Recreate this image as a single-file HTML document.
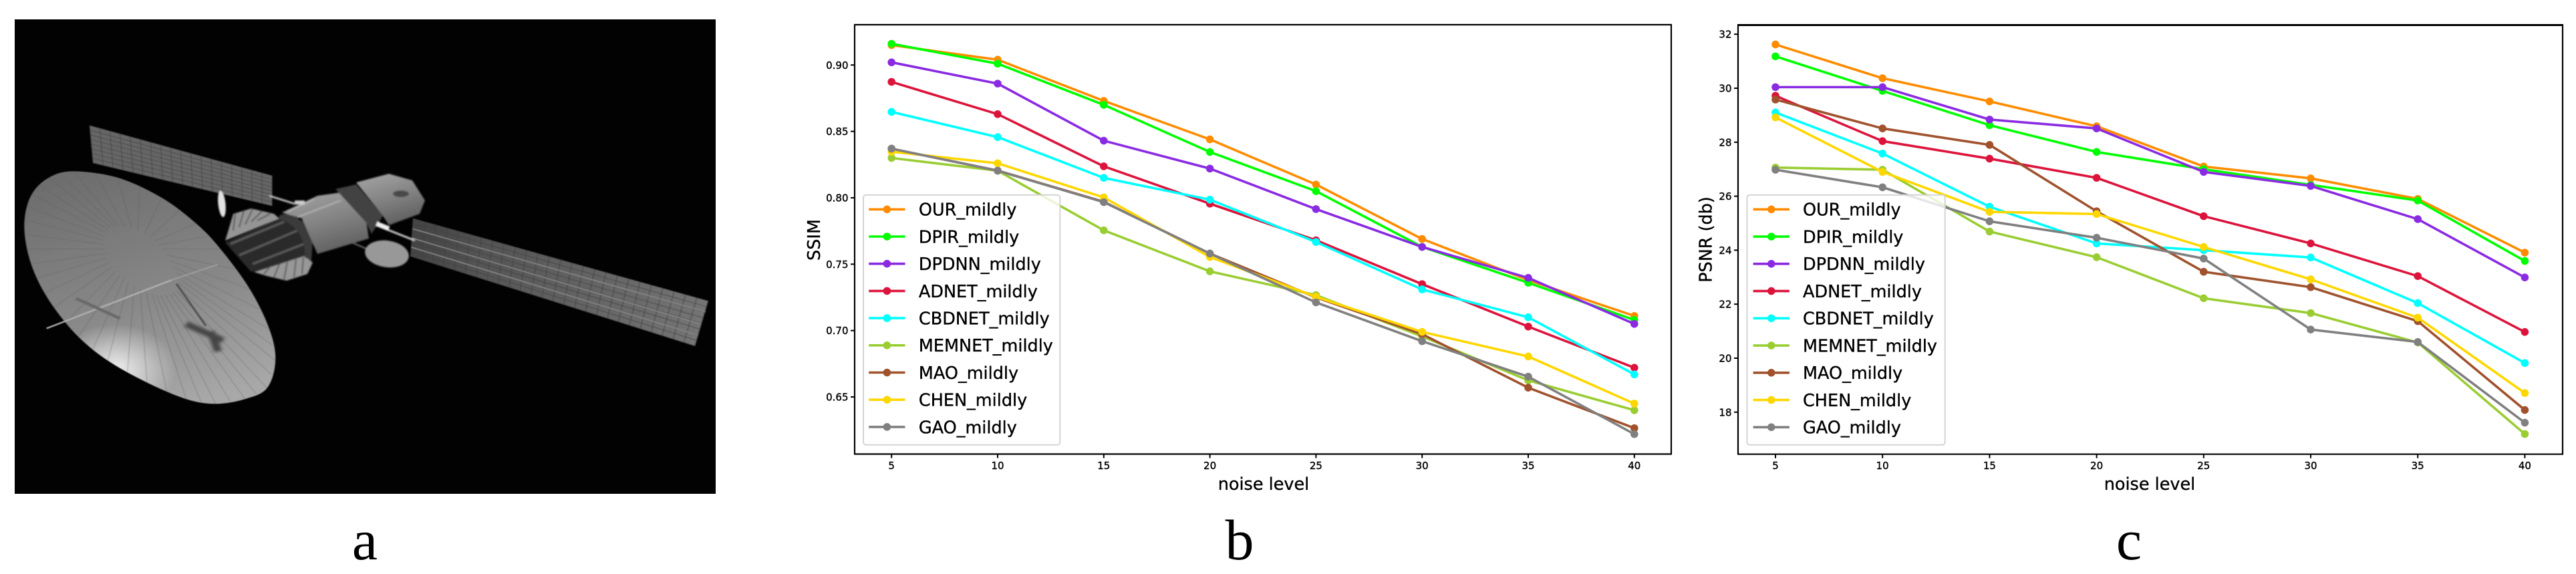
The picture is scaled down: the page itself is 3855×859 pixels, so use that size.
<!DOCTYPE html>
<html lang="en">
<head>
<meta charset="utf-8">
<title>Satellite image with SSIM and PSNR noise charts</title>
<style>
html,body{margin:0;padding:0;background:#fff;}
svg{display:block;}
.tick{font-family:"DejaVu Sans","Liberation Sans",sans-serif;font-size:15px;fill:#000;stroke:#000;stroke-width:.4px;}
.lbl{font-family:"DejaVu Sans","Liberation Sans",sans-serif;font-size:25.5px;fill:#000;stroke:#000;stroke-width:.35px;}
.cap{font-family:"Liberation Serif",serif;font-size:86px;fill:#000;}
</style>
</head>
<body>
<svg id="root" xmlns="http://www.w3.org/2000/svg" width="3855" height="859" viewBox="0 0 3855 859">
  <defs>
    <linearGradient id="dishGrad" gradientUnits="userSpaceOnUse" x1="180" y1="480" x2="430" y2="1090">
      <stop offset="0" stop-color="#6e6e6e"/><stop offset=".55" stop-color="#888"/><stop offset="1" stop-color="#a8a8a8"/>
    </linearGradient>
    <linearGradient id="rightPanelGrad" gradientUnits="userSpaceOnUse" x1="840" y1="700" x2="1440" y2="850">
      <stop offset="0" stop-color="#444"/><stop offset=".25" stop-color="#555"/><stop offset="1" stop-color="#747474"/>
    </linearGradient>
    <linearGradient id="cylGrad" x1="0.2" y1="0" x2="0.6" y2="1">
      <stop offset="0" stop-color="#a2a2a2"/><stop offset=".5" stop-color="#838383"/><stop offset="1" stop-color="#5e5e5e"/>
    </linearGradient>
    <radialGradient id="dishGlow" gradientUnits="userSpaceOnUse" cx="235" cy="1010" r="125">
      <stop offset="0" stop-color="#f4f4f4" stop-opacity=".95"/><stop offset="1" stop-color="#f4f4f4" stop-opacity="0"/>
    </radialGradient>
    <clipPath id="dishClip"><path id="dishClipPath"/></clipPath>
    <filter id="soft" x="-20%" y="-20%" width="140%" height="140%"><feGaussianBlur stdDeviation="1"/></filter>
    <filter id="softer" x="-40%" y="-40%" width="180%" height="180%"><feGaussianBlur stdDeviation="4"/></filter>
  </defs>

  <rect width="3855" height="859" fill="#fff"/>

  <g>
    <rect x="22" y="29" width="1049" height="710" fill="#020202"/>
    <g transform="scale(0.7334,0.5479)" filter="url(#soft)">
      <g>
        <polygon points="183,343 555,480 555,562 190,445" fill="#666"/>
        <path id="leftGrid" fill="none" stroke="#484848" stroke-width="1.6"/>
      </g>
      <g>
        <polygon points="843,597 1445,822 1418,945 838,700" fill="url(#rightPanelGrad)"/>
        <path id="rightGrid" fill="none" stroke="#404040" stroke-width="1.4"/>
        <path d="M842,625L1440,852M840,650L1430,885M839,675L1424,915" fill="none" stroke="#8e8e8e" stroke-width="2.4"/>
      </g>
    </g>
    <g filter="url(#soft)">
      <line x1="403" y1="293" x2="441" y2="305" stroke="#bbb" stroke-width="3"/>
      <line x1="563" y1="337" x2="621" y2="360" stroke="#c8c8c8" stroke-width="3"/>
      <line x1="520" y1="360" x2="550" y2="373" stroke="#777" stroke-width="2"/>
      <polygon points="341,347 349,320 376,312 410,320 418,327 337,360" fill="#959595"/>
      <path d="M349,345L352,320M358,340L365,315M367,336L378,313M376,332L392,316M385,330L404,320" stroke="#555" stroke-width="2" fill="none"/>
      <polygon points="380,407 456,383 468,393 460,410 429,420 399,413" fill="#989898"/>
      <path d="M395,410L405,398M410,415L418,395M425,418L430,392M440,415L443,388M452,410L454,385" stroke="#5a5a5a" stroke-width="2" fill="none"/>
      <polygon points="337,363 418,327 456,330 468,363 456,383 376,407" fill="#2a2a2a"/>
      <path d="M345,365L425,332M358,382L445,345M378,395L455,365" stroke="#5c5c5c" stroke-width="3" fill="none"/>
      <path d="M418,322C440,315 455,330 468,360L466,390L456,385C458,360 445,335 418,328Z" fill="#3a3a3a"/>
      <polygon points="422,318 475,293 517,287 548,330 552,357 475,380 452,327" fill="url(#cylGrad)"/>
      <polygon points="502,283 533,276 573,323 556,350 548,333" fill="#424242"/>
      <polygon points="533,273 582,260 617,270 636,300 628,320 582,337 573,323" fill="url(#cylGrad)"/>
      <ellipse cx="600" cy="290" rx="12" ry="5" fill="#484848"/>
      <path d="M430,317L470,298M445,325L510,300" stroke="#b4b4b4" stroke-width="2" fill="none"/>
      <ellipse cx="332" cy="305" rx="5.5" ry="20" fill="#e2e2e2" transform="rotate(-6 332 305)"/>
      <rect x="563" y="335" width="20" height="7" fill="#eee" transform="rotate(22 573 338)"/>
      <rect x="441" y="300" width="15" height="6" fill="#ccc"/>
      <ellipse cx="579" cy="380" rx="33" ry="20" fill="#989898" transform="rotate(8 579 380)"/>
    </g>
    <g transform="scale(0.7334,0.5479)" filter="url(#soft)">
      <g>
        <path id="dishShape" fill="url(#dishGrad)"/>
        <g clip-path="url(#dishClip)">
          <rect x="40" y="860" width="320" height="260" fill="url(#dishGlow)"/>
          <path id="dishRibs" fill="none" stroke="#5c5c5c" stroke-width="1.4" opacity=".45"/>
        </g>
        <path d="M95,897L350,765" stroke="#b0b0b0" stroke-width="4" fill="none"/>
        <path d="M350,765L445,722" stroke="#a0a0a0" stroke-width="3" fill="none"/>
        <path d="M155,815L245,870" stroke="#6a6a6a" stroke-width="8" fill="none"/>
        <path d="M360,775L420,890" stroke="#555" stroke-width="5" fill="none"/>
        <path d="M380,885L455,930M430,905L445,960" stroke="#454545" stroke-width="16" fill="none" filter="url(#softer)"/>
      </g>
    </g>
  </g>

  <text class="cap" x="546" y="837" text-anchor="middle">a</text>
  <text class="cap" x="1855" y="837" text-anchor="middle">b</text>
  <text class="cap" x="3186" y="837" text-anchor="middle">c</text>

  <g id="chartB"></g>
  <g id="chartC"></g>
</svg>

<script>
const noiseLevels = [5, 10, 15, 20, 25, 30, 35, 40];
const seriesNames = ["OUR_mildly", "DPIR_mildly", "DPDNN_mildly", "ADNET_mildly", "CBDNET_mildly", "MEMNET_mildly", "MAO_mildly", "CHEN_mildly", "GAO_mildly"];
const ssimTickLabels = ["0.90", "0.85", "0.80", "0.75", "0.70", "0.65"];
const psnrTickLabels = ["32", "30", "28", "26", "24", "22", "20", "18"];

const ssimOur    = [0.915, 0.904, 0.873, 0.844, 0.810, 0.769, 0.738, 0.711];
const ssimDpir   = [0.916, 0.901, 0.870, 0.8345, 0.805, 0.763, 0.736, 0.708];
const ssimDpdnn  = [0.902, 0.886, 0.843, 0.822, 0.7915, 0.763, 0.7397, 0.705];
const ssimAdnet  = [0.8873, 0.863, 0.8237, 0.7956, 0.768, 0.735, 0.703, 0.672];
const ssimCbdnet = [0.8647, 0.8457, 0.815, 0.7986, 0.7667, 0.731, 0.710, 0.667];
const ssimMemnet = [0.830, 0.8204, 0.7755, 0.7446, 0.7267, 0.6956, 0.6625, 0.640];
const ssimMao    = [0.837, 0.8205, 0.797, 0.758, 0.725, 0.6973, 0.657, 0.6265];
const ssimChen   = [0.8347, 0.826, 0.8003, 0.7554, 0.7254, 0.699, 0.6805, 0.645];
const ssimGao    = [0.837, 0.8204, 0.7967, 0.758, 0.7212, 0.692, 0.6653, 0.622];

const psnrOur    = [31.62, 30.37, 29.51, 28.59, 27.10, 26.66, 25.90, 23.91];
const psnrDpir   = [31.18, 29.90, 28.63, 27.64, 27.00, 26.42, 25.84, 23.60];
const psnrDpdnn  = [30.04, 30.04, 28.84, 28.51, 26.90, 26.38, 25.15, 22.99];
const psnrAdnet  = [29.72, 28.04, 27.39, 26.68, 25.26, 24.25, 23.04, 20.97];
const psnrCbdnet = [29.10, 27.58, 25.61, 24.25, 24.00, 23.73, 22.04, 19.82];
const psnrMemnet = [27.06, 26.98, 24.69, 23.74, 22.22, 21.67, 20.58, 17.19];
const psnrMao    = [29.58, 28.51, 27.90, 25.44, 23.20, 22.63, 21.37, 18.08];
const psnrChen   = [28.92, 26.90, 25.42, 25.34, 24.12, 22.92, 21.50, 18.71];
const psnrGao    = [26.98, 26.33, 25.07, 24.46, 23.69, 21.06, 20.60, 17.61];

const ssimSeries = [ssimOur, ssimDpir, ssimDpdnn, ssimAdnet, ssimCbdnet, ssimMemnet, ssimMao, ssimChen, ssimGao];
const psnrSeries = [psnrOur, psnrDpir, psnrDpdnn, psnrAdnet, psnrCbdnet, psnrMemnet, psnrMao, psnrChen, psnrGao];

const palette = ["#ff8c00", "#00ff00", "#8a2be2", "#dc143c", "#00ffff", "#9acd32", "#a0522d", "#ffd700", "#808080"];

const NS = "http://www.w3.org/2000/svg";

function make(parent, tag, attrs, text) {
  const el = document.createElementNS(NS, tag);
  for (const k in attrs) el.setAttribute(k, attrs[k]);
  if (text !== undefined) el.textContent = text;
  parent.appendChild(el);
  return el;
}

function slug(name) {
  return name.toLowerCase().replace(/_/g, "-");
}

function xAxisScale(level, x5, perUnit) {
  return x5 + (level - 5) * perUnit;
}

function yAxisScale(value, refValue, refY, perUnit) {
  return refY + (refValue - value) * perUnit;
}

function drawChart(host, prefix, box, xFn, yFn, yTicks, series, legend, yLabel) {
  // y ticks
  yTicks.forEach(function (label) {
    const y = yFn(parseFloat(label));
    const tick = make(host, "line", { x1: box.left - 6, x2: box.left, y1: y, y2: y, stroke: "#000", "stroke-width": 2 });
    
    
    const t = make(host, "text", { class: "tick", x: box.left - 9.5, y: y + 5.5, "text-anchor": "end" }, label);
    
    
  });

  // x ticks
  noiseLevels.forEach(function (level) {
    const x = xFn(level);
    const tick = make(host, "line", { x1: x, x2: x, y1: box.bottom, y2: box.bottom + 6, stroke: "#000", "stroke-width": 2 });
    
    
    const t = make(host, "text", { class: "tick", x: x, y: box.bottom + 22.5, "text-anchor": "middle" }, String(level));
    
    
  });

  // series
  series.forEach(function (values, i) {
    const group = make(host, "g", {});
    
    
    const pts = values.map(function (v, j) { return xFn(noiseLevels[j]) + "," + yFn(v); }).join(" ");
    const line = make(group, "polyline", { points: pts, fill: "none", stroke: palette[i], "stroke-width": 3.6, "stroke-linejoin": "round" });
    
    
    values.forEach(function (v, j) {
      const dot = make(group, "circle", { cx: xFn(noiseLevels[j]), cy: yFn(v), r: 5.8, fill: palette[i] });
      
      
    });
  });

  // legend
  const lg = make(host, "g", {});
  
  
  const frame = make(lg, "rect", { x: legend.left, y: legend.top, width: legend.right - legend.left, height: legend.bottom - legend.top, rx: 4, fill: "#fff", "fill-opacity": 0.8, stroke: "#d4d4d4", "stroke-width": 2 });
  
  
  seriesNames.forEach(function (name, i) {
    const y = legend.firstRow + i * legend.rowGap;
    const entry = make(lg, "g", {});
    
    
    make(entry, "line", { x1: legend.handleStart, x2: legend.handleStart + 54.3, y1: y, y2: y, stroke: palette[i], "stroke-width": 3.6 });
    make(entry, "circle", { cx: legend.handleStart + 27.2, cy: y, r: 5.8, fill: palette[i] });
    make(entry, "text", { class: "lbl", x: legend.textX, y: y + 9.4 }, name);
  });

  // spines
  const sp = [
    ["left", box.left, box.top, box.left, box.bottom, box.sw],
    ["right", box.right, box.top, box.right, box.bottom, box.sw],
    ["top", box.left - 1, box.top, box.right + 1, box.top, box.topw],
    ["bottom", box.left - 1, box.bottom, box.right + 1, box.bottom, box.sw]
  ];
  sp.forEach(function (s) {
    const l = make(host, "line", { x1: s[1], y1: s[2], x2: s[3], y2: s[4], stroke: "#000", "stroke-width": s[5] });
    
    
  });

  // axis titles
  const xt = make(host, "text", { class: "lbl", x: box.xLabelX, y: 733, "text-anchor": "middle" }, "noise level");
  
  
  const yt = make(host, "text", { class: "lbl", transform: "translate(" + box.yLabelX + "," + box.yLabelY + ") rotate(-90)", "text-anchor": "middle" }, yLabel);
  
  
}

drawChart(
  document.getElementById("chartB"), "ssim",
  { left: 1279, right: 2501, top: 37, bottom: 679.5, sw: 2.2, topw: 2.2, xLabelX: 1891, yLabelX: 1227, yLabelY: 359 },
  function (level) { return xAxisScale(level, 1334.2, 31.76); },
  function (v) { return yAxisScale(v, 0.90, 97.3, 1987); },
  ssimTickLabels, ssimSeries,
  { left: 1292, right: 1586.3, top: 291.7, bottom: 665.7, firstRow: 313.3, rowGap: 40.7, handleStart: 1300.2, textX: 1374.9 },
  "SSIM"
);

drawChart(
  document.getElementById("chartC"), "psnr",
  { left: 2601, right: 3835, top: 37.5, bottom: 679.7, sw: 2.2, topw: 3, xLabelX: 3217, yLabelX: 2561.5, yLabelY: 358.5 },
  function (level) { return xAxisScale(level, 2657, 32.04); },
  function (v) { return yAxisScale(v, 30, 132, 40.4); },
  psnrTickLabels, psnrSeries,
  { left: 2614.5, right: 2910.7, top: 291.7, bottom: 665.7, firstRow: 313.3, rowGap: 40.75, handleStart: 2623.6, textX: 2698 },
  "PSNR (db)"
);

// Decorative photo detail
function quadGrid(id, q, cols, rows) {
  function lerp(a, b, t) { return [a[0] + (b[0] - a[0]) * t, a[1] + (b[1] - a[1]) * t]; }
  let d = "";
  for (let c = 0; c <= cols; c++) {
    const a = lerp(q[0], q[1], c / cols), b = lerp(q[3], q[2], c / cols);
    d += "M" + a[0] + "," + a[1] + "L" + b[0] + "," + b[1];
  }
  for (let r = 0; r <= rows; r++) {
    const a = lerp(q[0], q[3], r / rows), b = lerp(q[1], q[2], r / rows);
    d += "M" + a[0] + "," + a[1] + "L" + b[0] + "," + b[1];
  }
  document.getElementById(id).setAttribute("d", d);
}
quadGrid("leftGrid", [[183, 343], [555, 480], [555, 562], [190, 445]], 18, 8);
quadGrid("rightGrid", [[843, 597], [1445, 822], [1418, 945], [838, 700]], 26, 8);

// Smooth closed outline of the dish and its ribs
(function () {
  const rim = [[150,468],[240,485],[330,540],[400,610],[450,680],[510,790],[550,900],[562,985],[545,1060],[500,1090],[440,1103],[380,1090],[300,1045],[220,985],[160,920],[110,840],[75,760],[55,680],[50,600],[65,530],[100,485]];
  const n = rim.length;
  let d = "M" + rim[0][0] + "," + rim[0][1];
  for (let i = 0; i < n; i++) {
    const p0 = rim[(i - 1 + n) % n], p1 = rim[i], p2 = rim[(i + 1) % n], p3 = rim[(i + 2) % n];
    const c1x = p1[0] + (p2[0] - p0[0]) / 6, c1y = p1[1] + (p2[1] - p0[1]) / 6;
    const c2x = p2[0] - (p3[0] - p1[0]) / 6, c2y = p2[1] - (p3[1] - p1[1]) / 6;
    d += "C" + c1x + "," + c1y + " " + c2x + "," + c2y + " " + p2[0] + "," + p2[1];
  }
  d += "Z";
  document.getElementById("dishShape").setAttribute("d", d);
  document.getElementById("dishClipPath").setAttribute("d", d);
  const hx = 280, hy = 680;
  let ribs = "";
  rim.forEach(function (c, i) {
    const m = rim[(i + 1) % n];
    [[c[0], c[1]], [(c[0] + m[0]) / 2, (c[1] + m[1]) / 2]].forEach(function (e) {
      ribs += "M" + (hx + (e[0] - hx) * 0.3) + "," + (hy + (e[1] - hy) * 0.3) + "L" + e[0] + "," + e[1];
    });
  });
  document.getElementById("dishRibs").setAttribute("d", ribs);
})();
</script>
</body>
</html>
